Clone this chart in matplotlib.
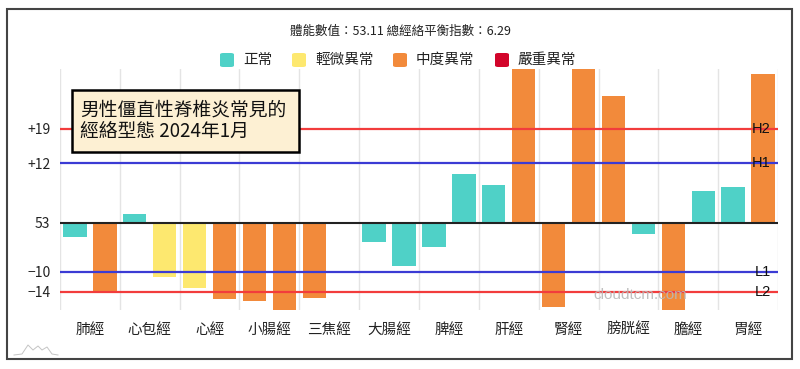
import matplotlib
matplotlib.use("Agg")
import matplotlib.pyplot as plt
from matplotlib.patches import Rectangle, FancyBboxPatch
from matplotlib.lines import Line2D
import numpy as np

plt.rcParams['font.family'] = ['Noto Sans CJK TC', 'DejaVu Sans']
plt.rcParams['font.weight'] = 'medium'
plt.rcParams['axes.unicode_minus'] = True

# ---------------- data ----------------
categories = ['肺經', '心包經', '心經', '小腸經', '三焦經', '大腸經',
              '脾經', '肝經', '腎經', '膀胱經', '膽經', '胃經']
left_values = [-3.0, 1.8, -13.2, -15.8, -15.3, -4.0, -5.0, 7.7, -17.0, 25.6, -18.0, 7.2]
right_values = [-14.0, -11.1, -15.4, -18.0, 0.0, -8.8, 9.9, 36.0, 36.0, -2.4, 6.4, 30.0]
left_levels = [0, 0, 1, 2, 2, 0, 0, 0, 2, 2, 2, 0]
right_levels = [2, 1, 2, 2, 2, 0, 0, 2, 2, 0, 0, 2]
level_names = ['正常', '輕微異常', '中度異常', '嚴重異常']
level_colors = ['#4fd1c7', '#fde86f', '#f28a3b', '#d2052a']
baseline_value = 53
threshold_values = [19, 12, -10, -14]
threshold_names = ['H2', 'H1', 'L1', 'L2']
threshold_colors = ['#f23c3c', '#3b3bd4', '#3b3bd4', '#f23c3c']
tick_values = [19, 12, 0, -10, -14]
tick_labels = ['+19', '+12', str(baseline_value), '−10', '−14']
body_value = 53.11
balance_index = 6.29
box_lines = ['男性僵直性脊椎炎常見的', '經絡型態 2024年1月']

W, H = 800, 369
fig = plt.figure(figsize=(W / 100, H / 100), dpi=100)
fig.patch.set_facecolor('white')


def fx(px):
    return px / W


def fy(py):
    return 1 - py / H


ax = fig.add_axes([fx(60), fy(310), fx(778) - fx(60), fy(69) - fy(310)])
x = np.arange(len(categories))
ax.bar(x - 0.25, left_values, width=0.39,
       color=[level_colors[l] for l in left_levels], zorder=2)
ax.bar(x + 0.25, right_values, width=0.39,
       color=[level_colors[l] for l in right_levels], zorder=2)

ax.set_xlim(-0.5, len(categories) - 0.5)
ax.set_ylim(-17.7, 31.1)
for s in ax.spines.values():
    s.set_visible(False)

ax.set_xticks(x)
ax.set_xticklabels(categories, fontsize=10.5, color='#222')
ax.set_xticks(np.arange(-0.5, len(categories), 1), minor=True)
ax.grid(which='minor', axis='x', color='#e4e4e4', lw=1, zorder=0)
ax.tick_params(axis='x', which='both', length=0, pad=9)

ax.set_yticks(tick_values)
ax.set_yticklabels(tick_labels, fontsize=10, color='#222')
ax.tick_params(axis='y', length=0, pad=7)

ax.axhline(0, color='#222222', lw=1.5, zorder=3)
label_x = len(categories) - 0.5 - 7 / 59.8
for v, n, c in zip(threshold_values, threshold_names, threshold_colors):
    ax.axhline(v, color=c, lw=1.6, zorder=3)
    ax.text(label_x, v, n, ha='right', va='center', fontsize=10.5,
            color='#111', zorder=4, family=['Liberation Sans', 'DejaVu Sans'],
            fontweight='normal')

# title
fig.text(0.5, fy(31), f'體能數值：{body_value} 總經絡平衡指數：{balance_index}',
         ha='center', va='center', fontsize=9, color='#222')

# legend
leg_patch_x = [220, 292, 393, 495]
for px, name, col in zip(leg_patch_x, level_names, level_colors):
    fig.add_artist(FancyBboxPatch((fx(px), fy(67)), fx(14), fy(53) - fy(67),
                                  boxstyle='round,pad=0,rounding_size=0.004',
                                  facecolor=col, edgecolor='none',
                                  transform=fig.transFigure))
    fig.text(fx(px + 23), fy(60), name, ha='left', va='center',
             fontsize=10.5, color='#222')

# annotation box
fig.add_artist(Rectangle((fx(72), fy(151.5)), fx(299) - fx(72), fy(90) - fy(151.5),
                         facecolor='#fdf0d3', edgecolor='black', lw=1.8,
                         transform=fig.transFigure, zorder=5))
fig.text(fx(80), fy(110), box_lines[0], ha='left', va='center',
         fontsize=13.5, color='#111', zorder=6)
fig.text(fx(80), fy(131), box_lines[1], ha='left', va='center',
         fontsize=13.5, color='#111', zorder=6)

# watermark
fig.text(fx(640), fy(295), 'cloudtcm.com', ha='center', va='center',
         fontsize=11, color='#b8b8b8', alpha=0.9, zorder=6,
         family=['Liberation Sans', 'DejaVu Sans'], fontweight='normal')

# small logo bottom-left
fig.add_artist(Line2D([fx(14), fx(22), fx(28), fx(33), fx(38), fx(42), fx(47), fx(52), fx(58)],
                      [fy(355), fy(354), fy(345), fy(350), fy(346), fy(350), fy(347), fy(354), fy(355)],
                      color='#c4c4c4', lw=0.7, transform=fig.transFigure))

# outer frame
fig.add_artist(Rectangle((fx(7), fy(359)), fx(792) - fx(7), fy(9) - fy(359),
                         fill=False, edgecolor='#444444', lw=1.5,
                         transform=fig.transFigure, zorder=7))

fig.savefig('out.png', dpi=100, facecolor='white')
